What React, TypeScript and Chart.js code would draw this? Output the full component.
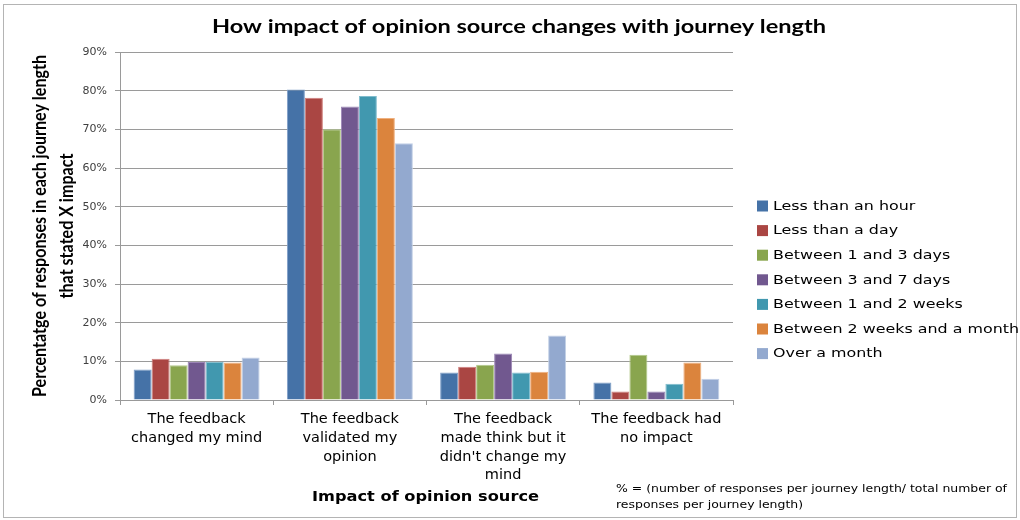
import React, { useEffect, useRef } from "react";
import { Chart, registerables } from "chart.js";

Chart.register(...registerables);

const titleText = "How impact of opinion source changes with journey length";
const yTitleLines = ["Percentatge of responses in each journey length", "that stated X impact"];
const xTitleText = "Impact of opinion source";
const footnoteLines = [
  "% = (number of responses per journey length/ total number of",
  "responses per journey length)",
];

const categories: string[][] = [
  ["The feedback", "changed my mind"],
  ["The feedback", "validated my", "opinion"],
  ["The feedback", "made think but it", "didn't change my", "mind"],
  ["The feedback had", "no impact"],
];

const seriesNames = [
  "Less than an hour",
  "Less than a day",
  "Between 1 and 3 days",
  "Between 3 and 7 days",
  "Between 1 and 2 weeks",
  "Between 2 weeks and a month",
  "Over a month",
];

const lessThanHour = [7.9, 80.3, 7.1, 4.5];
const lessThanDay = [10.7, 78.2, 8.6, 2.2];
const between1and3Days = [9.0, 70.0, 9.1, 11.7];
const between3and7Days = [9.8, 75.9, 12.0, 2.2];
const between1and2Weeks = [9.9, 78.6, 7.1, 4.2];
const between2WeeksMonth = [9.7, 72.9, 7.3, 9.7];
const overMonth = [11.0, 66.4, 16.7, 5.5];

const seriesValues = [
  lessThanHour,
  lessThanDay,
  between1and3Days,
  between3and7Days,
  between1and2Weeks,
  between2WeeksMonth,
  overMonth,
];

const seriesColors = ["#4572A7", "#AA4643", "#89A54E", "#71588F", "#4198AF", "#DB843D", "#93A9CF"];
const seriesBorders = ["#7f9fc8", "#cf7f7c", "#b3c98a", "#9c86b6", "#7fbccd", "#efb07f", "#c2d0e6"];

const yTickValues = [0, 10, 20, 30, 40, 50, 60, 70, 80, 90];

const TITLE_FONT = "Lato";
const BODY_FONT = "'DejaVu Sans'";

function drawStretched(ctx: any, text: string, x: number, y: number, sx: number, align: string) {
  ctx.save();
  ctx.translate(x, y);
  ctx.scale(sx, 1);
  ctx.textAlign = align;
  ctx.fillText(text, 0, 0);
  ctx.restore();
}

const decorPlugin = {
  id: "decor",
  beforeDraw(chart: any) {
    const ctx = chart.ctx;
    ctx.save();
    ctx.fillStyle = "#ffffff";
    ctx.fillRect(0, 0, chart.width, chart.height);
    ctx.strokeStyle = "#b4b4b4";
    ctx.lineWidth = 1;
    ctx.strokeRect(3.5, 4.5, 1013, 513);
    ctx.restore();
  },
  afterDraw(chart: any) {
    const ctx = chart.ctx;
    const area = chart.chartArea;
    ctx.save();
    ctx.fillStyle = "#000000";
    ctx.textBaseline = "middle";

    // Title
    ctx.font = `bold 19px ${TITLE_FONT}`;
    const tsx = 614 / ctx.measureText(titleText).width;
    drawStretched(ctx, titleText, 519, 27, tsx, "center");

    // Y title (rotated)
    ctx.font = `bold 17px ${TITLE_FONT}`;
    const ysx = 342 / ctx.measureText(yTitleLines[0]).width;
    const yc = (area.top + area.bottom) / 2;
    const yx = [40, 67];
    yTitleLines.forEach((line, i) => {
      ctx.save();
      ctx.translate(yx[i], yc);
      ctx.rotate(-Math.PI / 2);
      ctx.scale(ysx, 1.15);
      ctx.textAlign = "center";
      ctx.fillText(line, 0, 0);
      ctx.restore();
    });

    // X title
    ctx.font = `bold 14.5px ${BODY_FONT}`;
    const xsx = 227 / ctx.measureText(xTitleText).width;
    drawStretched(ctx, xTitleText, 425.5, 497, xsx, "center");

    // Legend
    ctx.font = `13px ${BODY_FONT}`;
    const lsx = 246 / ctx.measureText(seriesNames[5]).width;
    const legendTop = 206;
    const legendStep = 24.6;
    seriesNames.forEach((name, i) => {
      const cy = legendTop + i * legendStep;
      ctx.fillStyle = seriesColors[i];
      ctx.fillRect(757, cy - 5.5, 11, 11);
      ctx.fillStyle = "#000000";
      drawStretched(ctx, name, 773, cy + 0.5, lsx, "left");
    });

    // Footnote
    ctx.font = `10.5px ${BODY_FONT}`;
    const fsx = 391 / ctx.measureText(footnoteLines[0]).width;
    footnoteLines.forEach((line, i) => {
      drawStretched(ctx, line, 616, 489 + i * 16, fsx, "left");
    });
    ctx.restore();
  },
};

export default function App() {
  const canvasRef = useRef<HTMLCanvasElement | null>(null);

  useEffect(() => {
    if (!canvasRef.current) return;
    const chart = new Chart(canvasRef.current, {
      type: "bar",
      data: {
        labels: categories,
        datasets: seriesNames.map((name, i) => ({
          label: name,
          data: seriesValues[i],
          backgroundColor: seriesColors[i],
          borderColor: seriesBorders[i],
          borderWidth: 1,
          categoryPercentage: 0.822,
          barPercentage: 1,
        })),
      },
      options: {
        animation: false,
        responsive: false,
        devicePixelRatio: 1,
        layout: { padding: { top: 52, right: 287, bottom: 0, left: 0 } },
        plugins: {
          legend: { display: false },
          title: { display: false },
          tooltip: { enabled: false },
        },
        scales: {
          x: {
            type: "category",
            offset: true,
            grid: {
              display: true,
              drawOnChartArea: false,
              drawTicks: true,
              tickLength: 5,
              color: "#999999",
              offset: true,
            },
            border: { display: true, color: "#999999", width: 1 },
            ticks: {
              color: "#000000",
              font: { family: BODY_FONT, size: 14.5, lineHeight: 1.29 },
              padding: 5,
              maxRotation: 0,
              minRotation: 0,
              autoSkip: false,
            },
            afterFit: (s: any) => {
              s.height = 120;
            },
          },
          y: {
            min: 0,
            max: 90,
            afterBuildTicks: (s: any) => {
              s.ticks = yTickValues.map((v) => ({ value: v }));
            },
            ticks: {
              callback: (v: any) => `${v}%`,
              color: "#404040",
              font: { family: BODY_FONT, size: 11 },
              padding: 8,
            },
            grid: { color: "#9a9a9a", tickLength: 5, drawTicks: true },
            border: { display: true, color: "#9a9a9a", width: 1 },
            afterFit: (s: any) => {
              s.width = 120;
            },
          },
        },
      },
      plugins: [decorPlugin],
    });
    return () => chart.destroy();
  }, []);

  return (
    <div style={{ position: "fixed", left: 0, top: 0, width: 1020, height: 520, background: "#fff" }}>
      <canvas ref={canvasRef} width={1020} height={520} style={{ display: "block" }} />
    </div>
  );
}
